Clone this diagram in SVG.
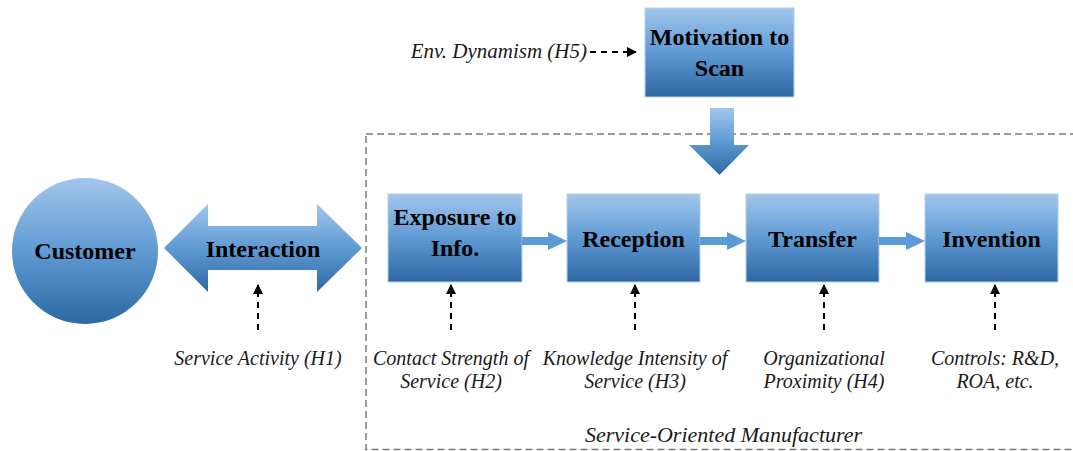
<svg xmlns="http://www.w3.org/2000/svg" width="1073" height="451" viewBox="0 0 1073 451">
<style>
.bold{font-family:"Liberation Serif","Times New Roman",serif;font-weight:bold;font-size:24px;fill:#000;text-anchor:middle}
.ital{font-family:"Liberation Serif","Times New Roman",serif;font-style:italic;font-size:20px;fill:#1a1a1a;text-anchor:middle}
.box{fill:url(#g);stroke:#b4d0ec;stroke-width:1}
.dash{stroke:#000;stroke-width:2;stroke-dasharray:6 5;fill:none}
.flow{fill:#5b9bd5}
</style>
<defs>
<linearGradient id="g" x1="0" y1="0" x2="0" y2="1">
<stop offset="0" stop-color="#a2c6ea"/>
<stop offset="0.5" stop-color="#5f9ad3"/>
<stop offset="1" stop-color="#2e68a3"/>
</linearGradient>
<marker id="ah" viewBox="0 0 10 10" refX="9" refY="5" markerWidth="5" markerHeight="5" orient="auto" markerUnits="strokeWidth">
<path d="M0,0 L10,5 L0,10 z" fill="#000"/>
</marker>
</defs>

<g id="manufacturer-boundary">
<rect x="366" y="134" width="712" height="315.5" fill="none" stroke="#7a7a7a" stroke-width="1.5" stroke-dasharray="7 4"/>
<text class="ital" x="723.5" y="442" style="font-size:22px">Service-Oriented Manufacturer</text>
</g>

<g id="customer">
<circle cx="85" cy="251" r="73" fill="url(#g)"/>
<text class="bold" x="85" y="259">Customer</text>
</g>

<g id="interaction">
<path d="M164,248 L208,204 L208,226 L317,226 L317,204 L362,248 L317,292 L317,270 L208,270 L208,292 Z" fill="url(#g)"/>
<text class="bold" x="263" y="257">Interaction</text>
</g>

<g id="motivation">
<rect class="box" x="645" y="8" width="149" height="89"/>
<text class="bold" x="719.5" y="45">Motivation to</text>
<text class="bold" x="719.5" y="76">Scan</text>
</g>

<g id="scan-arrow">
<path d="M710,108 L734,108 L734,145 L749,145 L719.5,175 L689,145 L710,145 Z" fill="url(#g)"/>
</g>

<g id="exposure">
<rect class="box" x="388" y="194" width="134" height="88"/>
<text class="bold" x="455" y="225">Exposure to</text>
<text class="bold" x="455" y="256">Info.</text>
</g>

<g id="reception">
<rect class="box" x="567" y="194" width="133" height="88"/>
<text class="bold" x="633.5" y="247">Reception</text>
</g>

<g id="transfer">
<rect class="box" x="746" y="194" width="133" height="88"/>
<text class="bold" x="812.5" y="247">Transfer</text>
</g>

<g id="invention">
<rect class="box" x="925" y="194" width="133" height="88"/>
<text class="bold" x="991.5" y="247">Invention</text>
</g>

<g id="labels">
<text class="ital" x="587" y="58" style="text-anchor:end;font-size:21px">Env. Dynamism (H5)</text>
<text class="ital" x="258" y="365">Service Activity (H1)</text>
<text class="ital" x="451" y="365">Contact Strength of</text>
<text class="ital" x="451" y="388">Service (H2)</text>
<text class="ital" x="635" y="365">Knowledge Intensity of</text>
<text class="ital" x="635" y="388">Service (H3)</text>
<text class="ital" x="824" y="365">Organizational</text>
<text class="ital" x="824" y="388">Proximity (H4)</text>
<text class="ital" x="995" y="365">Controls: R&amp;D,</text>
<text class="ital" x="995" y="388">ROA, etc.</text>
</g>

<g id="connectors">
<path class="flow" d="M522,237 L548,237 L548,232 L567,241 L548,250 L548,245 L522,245 Z"/>
<path class="flow" d="M700,237 L727,237 L727,232 L746,241 L727,250 L727,245 L700,245 Z"/>
<path class="flow" d="M879,237 L906,237 L906,232 L925,241 L906,250 L906,245 L879,245 Z"/>
<path class="dash" d="M590,52 L636,52" marker-end="url(#ah)"/>
<path class="dash" d="M258,330 L258,285" marker-end="url(#ah)"/>
<path class="dash" d="M451,330 L451,285" marker-end="url(#ah)"/>
<path class="dash" d="M635,330 L635,285" marker-end="url(#ah)"/>
<path class="dash" d="M824,330 L824,285" marker-end="url(#ah)"/>
<path class="dash" d="M995,330 L995,285" marker-end="url(#ah)"/>
</g>
</svg>
